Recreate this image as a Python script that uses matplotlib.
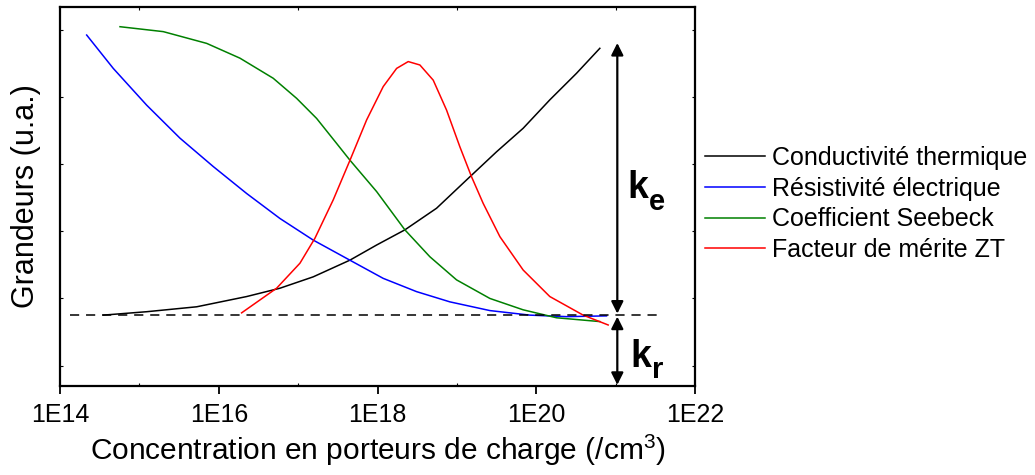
# Grandeurs thermoelectriques en fonction du dopage
import numpy as np
import matplotlib.pyplot as plt

plt.rcParams['font.family'] = ['Liberation Sans', 'DejaVu Sans']
plt.rcParams['mathtext.fontset'] = 'custom'
plt.rcParams['mathtext.rm'] = 'Liberation Sans'
plt.rcParams['mathtext.bf'] = 'Liberation Sans:bold'

# valeurs : log10(concentration) et grandeur (u.a.)
logn_cond = [14.545, 15.092, 15.722, 16.351, 16.771, 17.190, 17.652, 17.989,
             18.345, 18.744, 19.164, 19.500, 19.835, 20.171, 20.507, 20.801]
y_cond = [0.187, 0.196, 0.209, 0.236, 0.258, 0.288, 0.332, 0.372,
          0.412, 0.469, 0.552, 0.618, 0.680, 0.755, 0.825, 0.891]

logn_res = [14.336, 14.671, 15.092, 15.511, 15.931, 16.351, 16.771, 17.190,
            17.652, 18.072, 18.492, 18.912, 19.416, 19.919, 20.382, 20.885]
y_res = [0.926, 0.838, 0.741, 0.654, 0.579, 0.508, 0.442, 0.385,
         0.332, 0.284, 0.249, 0.222, 0.199, 0.187, 0.183, 0.185]

logn_seeb = [14.756, 15.301, 15.848, 16.267, 16.686, 16.981, 17.233, 17.485,
             17.652, 17.989, 18.345, 18.660, 18.996, 19.416, 19.835, 20.256,
             20.801]
y_seeb = [0.948, 0.935, 0.904, 0.865, 0.812, 0.759, 0.706, 0.640,
          0.596, 0.513, 0.412, 0.341, 0.280, 0.231, 0.201, 0.180,
          0.170]

logn_zt = [16.288, 16.729, 17.023, 17.212, 17.442, 17.652, 17.863, 18.072,
           18.241, 18.387, 18.534, 18.702, 18.870, 19.038, 19.185, 19.331,
           19.542, 19.835, 20.171, 20.591, 20.906]
y_zt = [0.193, 0.258, 0.324, 0.390, 0.491, 0.595, 0.702, 0.790,
        0.838, 0.856, 0.847, 0.807, 0.728, 0.631, 0.552, 0.482,
        0.394, 0.306, 0.236, 0.187, 0.161]

k_r = 0.187                 # niveau du reseau (ligne pointillee)
k_top = 0.905               # haut de la fleche k_e
n_dash = [1.34e14, 3.6e21]
n_arrow = 1.05e21

labels = ['Conductivité thermique', 'Résistivité électrique',
          'Coefficient Seebeck', 'Facteur de mérite ZT']
colors = ['black', 'blue', 'green', 'red']

fig = plt.figure(figsize=(10.35, 4.75), dpi=100)
ax = fig.add_axes([60/1035, 1 - 386/475, 635/1035, 379/475])

series = [(logn_cond, y_cond), (logn_res, y_res),
          (logn_seeb, y_seeb), (logn_zt, y_zt)]
for (ln, y), c, lab in zip(series, colors, labels):
    ax.plot(10.0 ** np.array(ln), y, color=c, lw=1.1, label=lab,
            solid_joinstyle='round')

ax.plot(n_dash, [k_r, k_r], color='black', lw=1.1, dashes=(6, 4.5))

arrow = dict(arrowstyle='<|-|>', color='black', lw=1.6,
             mutation_scale=18, shrinkA=0, shrinkB=0)
ax.annotate('', xy=(n_arrow, k_top), xytext=(n_arrow, k_r + 0.004), arrowprops=arrow)
ax.annotate('', xy=(n_arrow, 0.003), xytext=(n_arrow, k_r - 0.004), arrowprops=arrow)

# k_e et k_r : lettre + indice en gras
ax.text(1.42e21, 0.495, 'k', fontsize=27, fontweight='bold', ha='left', va='baseline')
ax.text(2.6e21, 0.465, 'e', fontsize=21, fontweight='bold', ha='left', va='baseline')
ax.text(1.55e21, 0.05, 'k', fontsize=27, fontweight='bold', ha='left', va='baseline')
ax.text(2.85e21, 0.022, 'r', fontsize=21, fontweight='bold', ha='left', va='baseline')

ax.set_xscale('log')
ax.set_xlim(1e14, 1e22)
ax.set_ylim(0, 1)
ax.set_xticks([1e14, 1e16, 1e18, 1e20, 1e22])
ax.set_xticklabels(['1E14', '1E16', '1E18', '1E20', '1E22'])
ax.set_xticks([1e15, 1e17, 1e19, 1e21], minor=True)
ax.xaxis.set_minor_formatter(plt.NullFormatter())
ax.set_yticks([0.053, 0.232, 0.409, 0.586, 0.763, 0.939])
ax.set_yticklabels([])
ax.tick_params(axis='x', which='major', direction='out', length=6, width=1.3,
               labelsize=18, pad=6)
ax.tick_params(axis='x', which='minor', direction='in', length=2, width=0.8,
               top=True)
ax.tick_params(axis='y', direction='in', length=2, width=0.8, right=True)
for sp in ax.spines.values():
    sp.set_linewidth(1.6)

ax.set_xlabel('Concentration en porteurs de charge (/cm$^3$)', fontsize=21.5, labelpad=4)
ax.set_ylabel('Grandeurs (u.a.)', fontsize=22, labelpad=10)

fig.legend(loc='center left', bbox_to_anchor=(695/1035, 1 - 204/475),
           frameon=False, fontsize=18, handlelength=2.4, handletextpad=0.3,
           labelspacing=0.27, borderaxespad=0)

fig.savefig('out.png', dpi=100)
